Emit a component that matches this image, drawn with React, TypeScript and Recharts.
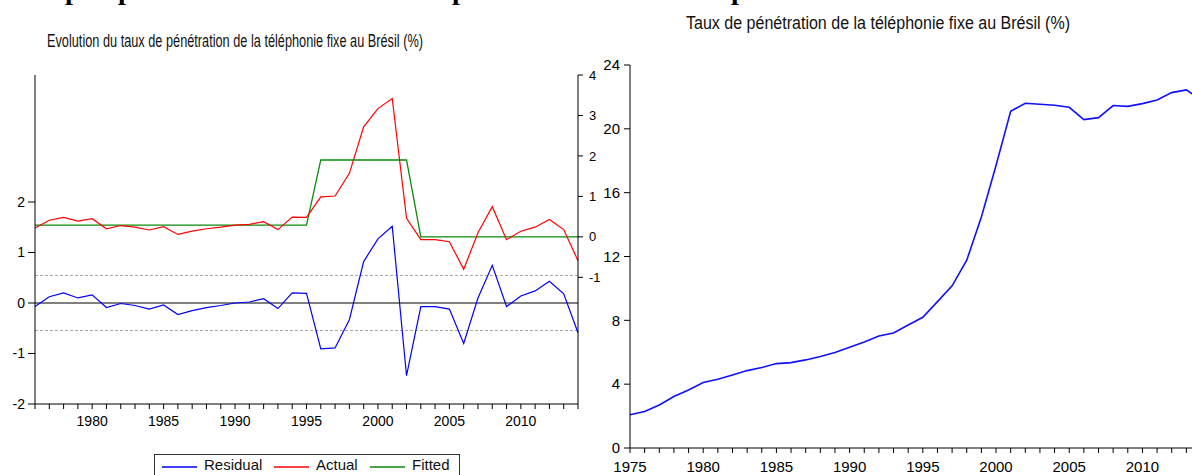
import React from 'react';
import { LineChart, Line, XAxis, YAxis, ReferenceLine } from 'recharts';

// residual / actual / fitted (1976-2014)
const years = [
  1976, 1977, 1978, 1979, 1980, 1981, 1982, 1983, 1984, 1985,
  1986, 1987, 1988, 1989, 1990, 1991, 1992, 1993, 1994, 1995,
  1996, 1997, 1998, 1999, 2000, 2001, 2002, 2003, 2004, 2005,
  2006, 2007, 2008, 2009, 2010, 2011, 2012, 2013, 2014,
];
const residual = [
  -0.07, 0.125, 0.2, 0.1, 0.16, -0.09, -0.01, -0.05, -0.12, -0.04,
  -0.23, -0.15, -0.09, -0.05, 0.0, 0.02, 0.085, -0.11, 0.2, 0.19,
  -0.91, -0.89, -0.33, 0.82, 1.27, 1.52, -1.44, -0.07, -0.07, -0.12,
  -0.8, 0.1, 0.745, -0.07, 0.14, 0.24, 0.43, 0.18, -0.59,
];
const actual = [
  0.22, 0.41, 0.48, 0.39, 0.45, 0.2, 0.28, 0.24, 0.17, 0.25,
  0.06, 0.14, 0.2, 0.24, 0.29, 0.31, 0.375, 0.18, 0.49, 0.48,
  0.99, 1.01, 1.57, 2.72, 3.17, 3.42, 0.46, -0.07, -0.07, -0.12,
  -0.8, 0.1, 0.745, -0.07, 0.14, 0.24, 0.43, 0.18, -0.59,
];
const fitted = [
  0.29, 0.29, 0.29, 0.29, 0.29, 0.29, 0.29, 0.29, 0.29, 0.29,
  0.29, 0.29, 0.29, 0.29, 0.29, 0.29, 0.29, 0.29, 0.29, 0.29,
  1.9, 1.9, 1.9, 1.9, 1.9, 1.9, 1.9, 0.0, 0.0, 0.0,
  0.0, 0.0, 0.0, 0.0, 0.0, 0.0, 0.0, 0.0, 0.0,
];
const residualBand = 0.545;
const leftTicks = [-2, -1, 0, 1, 2];
const rightTicks = [-1, 0, 1, 2, 3, 4];

// taux de pénétration (1975-2014)
const rateYears = [
  1975, 1976, 1977, 1978, 1979, 1980, 1981, 1982, 1983, 1984,
  1985, 1986, 1987, 1988, 1989, 1990, 1991, 1992, 1993, 1994,
  1995, 1996, 1997, 1998, 1999, 2000, 2001, 2002, 2003, 2004,
  2005, 2006, 2007, 2008, 2009, 2010, 2011, 2012, 2013, 2014,
];
const rate = [
  2.08, 2.29, 2.7, 3.23, 3.64, 4.1, 4.31, 4.58, 4.85, 5.04,
  5.29, 5.35, 5.52, 5.73, 5.98, 6.31, 6.64, 7.02, 7.21, 7.71,
  8.19, 9.17, 10.16, 11.77, 14.48, 17.7, 21.1, 21.6, 21.54, 21.48,
  21.35, 20.58, 20.7, 21.46, 21.41, 21.58, 21.81, 22.27, 22.44, 21.8,
];
const rateTicks = [0, 4, 8, 12, 16, 20, 24];

const FONT = '"Liberation Sans", Arial, sans-serif';
const BLUE = '#0000ff';
const RED = '#ff0000';
const GREEN = '#0a8a0a';

const series = [
  { key: 'residual', label: 'Residual', color: BLUE },
  { key: 'actual', label: 'Actual', color: RED },
  { key: 'fitted', label: 'Fitted', color: GREEN },
];
// x offset of each legend entry inside the box
const legendOffsets = [8, 120, 216];

const resData = years.map((y, i) => ({
  year: y,
  residual: residual[i],
  actual: actual[i],
  fitted: fitted[i],
}));
const rateData = rateYears.map((y, i) => ({ year: y, rate: rate[i] }));

const fiveYears = (v: number) => (v % 5 === 0 ? String(v) : '');

export default function App() {
  return (
    <div
      style={{
        position: 'absolute',
        left: 0,
        top: 0,
        width: 1192,
        height: 475,
        overflow: 'hidden',
        background: '#fff',
        fontFamily: FONT,
      }}
    >
      {/* titles, legend and bottom of the cut heading above */}
      <svg width={1192} height={475} style={{ position: 'absolute', left: 0, top: 0 }}>
        <g fontFamily='"Liberation Serif", "Times New Roman", serif' fontWeight="bold" fontSize={28}>
          <text x={65} y={-1}>p</text>
          <text x={118} y={-1}>p</text>
          <text x={452} y={-1}>p</text>
          <text x={731} y={-1}>p</text>
        </g>
        <text x={47} y={46.5} fontSize={17.5} fontFamily={FONT} textLength={376} lengthAdjust="spacingAndGlyphs" fill="#111">
          Evolution du taux de pénétration de la téléphonie fixe au Brésil (%)
        </text>
        <text x={686} y={28.5} fontSize={17.5} fontFamily={FONT} textLength={384} lengthAdjust="spacingAndGlyphs" fill="#111">
          Taux de pénétration de la téléphonie fixe au Brésil (%)
        </text>

        <g transform="translate(154,454)">
          <rect x={0.5} y={0.5} width={305} height={40} fill="#fff" stroke="#333" />
          {series.map((s, i) => (
            <g key={s.key} transform={`translate(${legendOffsets[i]},0)`}>
              <line x1={0} x2={35} y1={13} y2={13} stroke={s.color} strokeWidth={1.5} />
              <text x={42} y={16} fontSize={15} fontFamily={FONT} fill="#111">
                {s.label}
              </text>
            </g>
          ))}
        </g>
      </svg>

      {/* left chart */}
      <div style={{ position: 'absolute', left: 0, top: 0 }}>
        <LineChart width={620} height={475} data={resData} margin={{ top: 75, right: 20, bottom: 0, left: 0 }}>
          <XAxis
            dataKey="year"
            type="number"
            domain={[1976, 2014]}
            ticks={years}
            interval={0}
            tickFormatter={fiveYears}
            height={71}
            tickSize={5}
            tickMargin={7}
            stroke="#000"
            tick={{ fill: '#000', fontSize: 14, fontFamily: FONT }}
          />
          <XAxis xAxisId="top" orientation="top" type="number" domain={[1976, 2014]} tick={false} tickLine={false} height={0} stroke="#000" />
          <YAxis
            yAxisId="left"
            domain={[-2, 4.515]}
            ticks={leftTicks}
            width={35}
            tickSize={7}
            tickMargin={3}
            stroke="#000"
            tick={{ fill: '#000', fontSize: 14, fontFamily: FONT }}
          />
          <YAxis
            yAxisId="right"
            orientation="right"
            domain={[-4.13, 4]}
            ticks={rightTicks}
            width={22}
            tickSize={5}
            tickMargin={6}
            stroke="#000"
            tick={{ fill: '#000', fontSize: 13, fontFamily: FONT }}
          />
          <ReferenceLine yAxisId="left" y={residualBand} stroke="#a8a8a8" strokeDasharray="3 2" />
          <ReferenceLine yAxisId="left" y={-residualBand} stroke="#a8a8a8" strokeDasharray="3 2" />
          <ReferenceLine yAxisId="left" y={0} stroke="#000" />
          <Line yAxisId="right" type="linear" dataKey="fitted" stroke={GREEN} strokeWidth={1.3} dot={false} isAnimationActive={false} />
          <Line yAxisId="right" type="linear" dataKey="actual" stroke={RED} strokeWidth={1.2} dot={false} isAnimationActive={false} />
          <Line yAxisId="left" type="linear" dataKey="residual" stroke={BLUE} strokeWidth={1.2} dot={false} isAnimationActive={false} />
        </LineChart>
      </div>

      {/* right chart */}
      <div style={{ position: 'absolute', left: 595, top: 0 }}>
        <LineChart width={611} height={475} data={rateData} margin={{ top: 65, right: 5, bottom: 0, left: 0 }}>
          <XAxis
            dataKey="year"
            type="number"
            domain={[1975, 2014]}
            ticks={rateYears}
            interval={0}
            tickFormatter={fiveYears}
            height={27}
            tickSize={5}
            tickMargin={8}
            stroke="#000"
            tick={{ fill: '#000', fontSize: 15, fontFamily: FONT }}
          />
          <XAxis xAxisId="top" orientation="top" type="number" domain={[1975, 2014]} tick={false} tickLine={false} height={0} stroke="#222" strokeWidth={1.5} />
          <YAxis
            domain={[0, 24]}
            ticks={rateTicks}
            width={35}
            tickSize={6}
            tickMargin={4}
            stroke="#000"
            tick={{ fill: '#000', fontSize: 15, fontFamily: FONT }}
          />
          <Line type="linear" dataKey="rate" stroke="#1010ff" strokeWidth={1.6} dot={false} isAnimationActive={false} />
        </LineChart>
      </div>
    </div>
  );
}
